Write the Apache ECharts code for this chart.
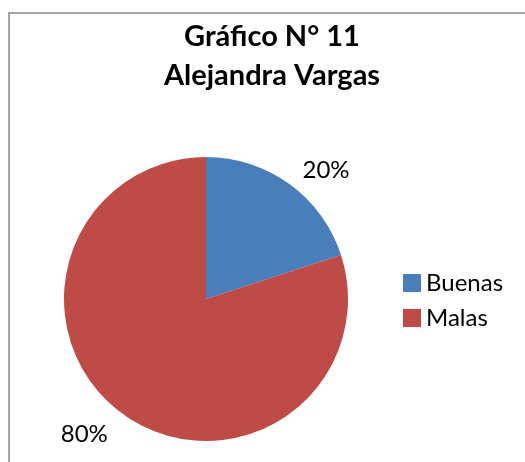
<!DOCTYPE html>
<html lang="es">
	<head>
		<meta charset="UTF-8">
		<title>Gráfico N° 11</title>
		<script src="https://cdn.jsdelivr.net/npm/echarts@6/dist/echarts.min.js"></script>
		<style>
			html, body { margin: 0; padding: 0; background: #fff; }
			#main { width: 525px; height: 462px; }
		</style>
	</head>
	<body>
		<div id="main"></div>
		<script>
			// datos
			var titleLines = ['Gráfico N° 11', 'Alejandra Vargas'];
			var categories = ['Buenas', 'Malas'];
			var values = [20, 80];
			var colors = ['#4A7EBB', '#BE4B48'];
			// largo de la linea (oculta) de cada etiqueta, para ubicar el texto
			var labelLen = [17, 25];
			var labelGap = [3, 0];

			var fontFam = 'Lato, "Open Sans", sans-serif';
			var myChart = echarts.init(document.getElementById('main'), null, { renderer: 'canvas' });

			var pieData = categories.map(function (name, i) {
				return {
					name: name,
					value: values[i],
					itemStyle: { color: colors[i] },
					labelLine: { show: false, length: labelLen[i], length2: 0 },
					label: { distanceToLabelLine: labelGap[i] }
				};
			});

			var option = {
				animation: false,
				backgroundColor: '#fff',
				title: {
					text: titleLines.join('\n'),
					left: 272,
					textAlign: 'center',
					top: 12,
					padding: [5, 0, 5, 0],
					textStyle: {
						fontFamily: fontFam,
						fontWeight: 'bold',
						fontSize: 29,
						lineHeight: 39,
						color: '#000'
					}
				},
				legend: {
					orient: 'vertical',
					left: 403,
					top: 271,
					icon: 'rect',
					itemWidth: 18,
					itemHeight: 18,
					itemGap: 11,
					padding: 0,
					data: categories,
					textStyle: {
						fontFamily: fontFam,
						fontSize: 24,
						lineHeight: 18,
						color: '#000'
					}
				},
				graphic: [{
					type: 'rect',
					silent: true,
					shape: { x: 9, y: 13, width: 540, height: 480 },
					style: { fill: 'none', stroke: '#868686', lineWidth: 1.5 }
				}],
				series: [{
					type: 'pie',
					center: [206, 299],
					radius: 142,
					startAngle: 90,
					clockwise: true,
					avoidLabelOverlap: false,
					emphasis: { disabled: true },
					label: {
						show: true,
						position: 'outside',
						formatter: '{d}%',
						fontFamily: fontFam,
						fontSize: 24,
						color: '#000',
						textBorderWidth: 0
					},
					labelLine: { show: false },
					data: pieData
				}]
			};
			myChart.setOption(option);
		</script>
	</body>
</html>
